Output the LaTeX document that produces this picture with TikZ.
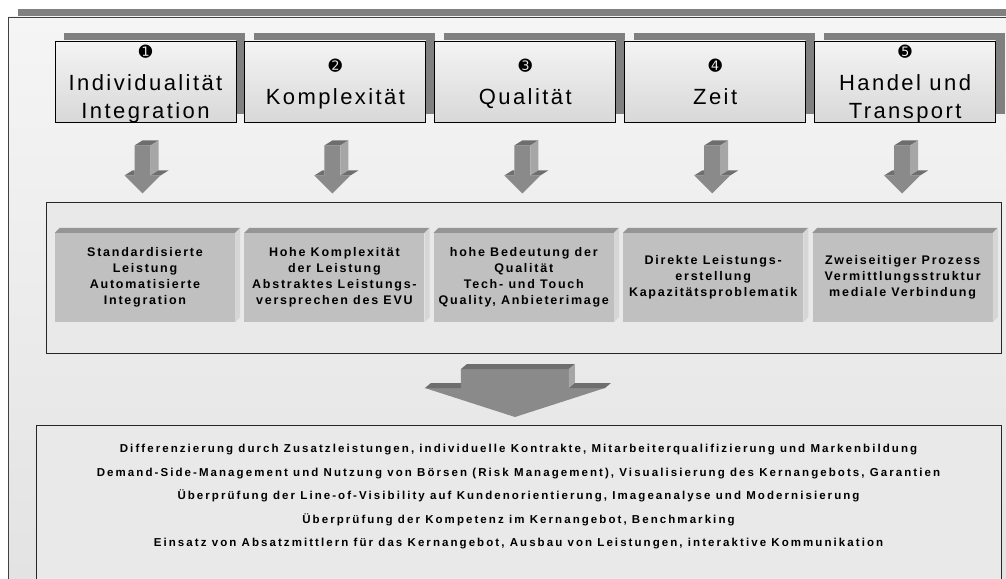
\documentclass[tikz,border=0pt]{standalone}
\usepackage{fontspec}
\setmainfont{Liberation Sans}
\newfontfamily\headfont[LetterSpace=11]{Liberation Sans}
\newfontfamily\blockfont[LetterSpace=14]{Liberation Sans}
\newfontfamily\lowfont[LetterSpace=18]{Liberation Sans}
\newfontfamily\dingfont{DejaVu Sans}
\newcommand{\boxnum}[1]{{\dingfont\fontsize{16}{16}\selectfont #1}}
\usetikzlibrary{positioning,shadows}
\definecolor{shadowgray}{HTML}{808080}
\definecolor{boxtop}{HTML}{F4F4F4}
\definecolor{boxbottom}{HTML}{D8D8D8}
\definecolor{framefill}{HTML}{F5F5F5}
\definecolor{framelow}{HTML}{E2E2E2}
\definecolor{panelfill}{HTML}{E9E9E9}
\definecolor{blockfront}{HTML}{C0C0C0}
\definecolor{blocktop}{HTML}{959595}
\definecolor{blockside}{HTML}{D6D6D6}
\definecolor{arrowfront}{HTML}{8A8A8A}
\definecolor{arrowtop}{HTML}{6E6E6E}
\definecolor{arrowside}{HTML}{A6A6A6}

\begin{document}
\begin{tikzpicture}[x=1pt, y=-1pt,
                    topbox/.style={rectangle, draw=black, line width=0.9pt, minimum width=181pt, minimum height=81pt, inner sep=0pt,
                                   text depth=0pt, top color=boxtop, bottom color=boxbottom, align=center, font=\headfont\fontsize{22}{28}\selectfont,
                                   drop shadow={shadow xshift=9pt, shadow yshift=8pt, fill=shadowgray, opacity=1}},
                    block/.style={rectangle, fill=blockfront, minimum width=180pt, minimum height=89pt, inner sep=0pt, align=center,
                                  font=\blockfont\bfseries\fontsize{12.5}{16}\selectfont},
                    panel/.style={rectangle, draw=black!85, line width=0.9pt, fill=panelfill, inner sep=0pt},
                    smallarrow/.pic={
                        \fill[arrowfront] (-8,-48) -- (8,-48) -- (8,-18) -- (18,-18) -- (0,0) -- (-18,-18) -- (-8,-18) -- cycle;
                        \fill[arrowtop] (-8,-48) -- (0,-53) -- (16,-53) -- (8,-48) -- cycle;
                        \fill[arrowside] (8,-48) -- (16,-53) -- (16,-23) -- (8,-18) -- cycle;
                        \fill[arrowtop] (-18,-18) -- (-10,-23) -- (-8,-23) -- (-8,-18) -- cycle;
                        \fill[arrowtop] (8,-18) -- (16,-23) -- (26,-23) -- (18,-18) -- cycle;},
                    bigarrow/.pic={
                        \fill[arrowfront] (-54,-48) -- (54,-48) -- (54,-29) -- (90,-29) -- (0,0) -- (-90,-29) -- (-54,-29) -- cycle;
                        \fill[arrowtop] (-54,-48) -- (-48,-53) -- (60,-53) -- (54,-48) -- cycle;
                        \fill[arrowside] (54,-48) -- (60,-53) -- (60,-34) -- (54,-29) -- cycle;
                        \fill[arrowtop] (-90,-29) -- (-84,-34) -- (-54,-34) -- (-54,-29) -- cycle;
                        \fill[arrowtop] (54,-29) -- (60,-34) -- (96,-34) -- (90,-29) -- cycle;},
                    node distance=8pt]
    \useasboundingbox (0,0) rectangle (1006,578);
    \clip (0,0) rectangle (1006,578);
    \fill[shadowgray] (18,9) rectangle (1030,17);
    \draw[draw=black!75, line width=0.9pt, top color=framefill, bottom color=framelow] (8,17) rectangle (1030,610);

    \node[topbox] (t1) at (145.5,81.5) {\boxnum{➊}\\[5pt]Individualität\\Integration};
    \node[topbox] (t2) [right=of t1] {\boxnum{➋}\\[5pt]Komplexität};
    \node[topbox] (t3) [right=of t2] {\boxnum{➌}\\[5pt]Qualität};
    \node[topbox] (t4) [right=of t3] {\boxnum{➍}\\[5pt]Zeit};
    \node[topbox] (t5) [right=of t4] {\boxnum{➎}\\[5pt]Handel und\\Transport};

    \node[panel, minimum width=955pt, minimum height=151pt] (mid) at (523.5,277.5) {};
    \node[block] (b1) at (145,277.5) {Standardisierte\\Leistung\\Automatisierte\\Integration};
    \node[block] (b2) [right=9pt of b1] {Hohe Komplexität\\der Leistung\\Abstraktes Leistungs-\\versprechen des EVU};
    \node[block] (b3) [right=9pt of b2] {hohe Bedeutung der\\Qualität\\Tech- und Touch\\Quality, Anbieterimage};
    \node[block] (b4) [right=9pt of b3] {Direkte Leistungs-\\erstellung\\Kapazitätsproblematik};
    \node[block] (b5) [right=9pt of b4] {Zweiseitiger Prozess\\Vermittlungsstruktur\\mediale Verbindung};
    \foreach \i in {1,...,5} {
        \fill[blocktop] (b\i.north west) -- ([shift={(5,-5)}]b\i.north west) -- ([shift={(5,-5)}]b\i.north east) -- (b\i.north east) -- cycle;
        \fill[blockside] (b\i.north east) -- ([shift={(5,-5)}]b\i.north east) -- ([shift={(5,-5)}]b\i.south east) -- (b\i.south east) -- cycle;
        \pic at ([shift={(-3,71)}]t\i.south) {smallarrow};
    }

    \node[panel, anchor=north west, minimum width=965pt, minimum height=175pt] (low) at (36,425) {};
    \pic at ([shift={(-4,-8)}]low.north) {bigarrow};
    \node[align=center, font=\lowfont\bfseries\fontsize{11.5}{23.5}\selectfont] (measures) at (518.5,497) {Differenzierung durch Zusatzleistungen, individuelle Kontrakte, Mitarbeiterqualifizierung und Markenbildung\\
        Demand-Side-Management und Nutzung von Börsen (Risk Management), Visualisierung des Kernangebots, Garantien\\
        Überprüfung der Line-of-Visibility auf Kundenorientierung, Imageanalyse und Modernisierung\\
        Überprüfung der Kompetenz im Kernangebot, Benchmarking\\
        Einsatz von Absatzmittlern für das Kernangebot, Ausbau von Leistungen, interaktive Kommunikation};
\end{tikzpicture}
\end{document}
